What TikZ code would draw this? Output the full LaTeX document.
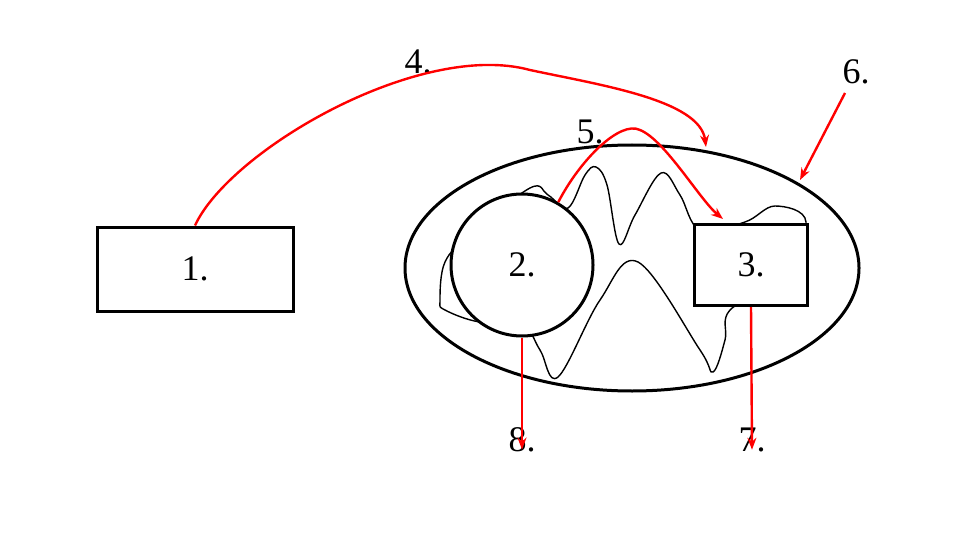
\documentclass[tikz,border=0pt]{standalone}
\usepackage{fontspec}
\setmainfont{Liberation Serif}
\usetikzlibrary{arrows.meta}
\begin{document}
\begin{tikzpicture}[x=1pt,y=-1pt,
  lbl/.style={font=\fontsize{36}{40}\selectfont, inner sep=0pt},
  thickbox/.style={draw=black, line width=3pt, fill=white},
  redarrow/.style={draw=red, line width=2.4pt, -{Stealth[length=12pt,width=9pt,inset=4pt]}}]
\useasboundingbox (0,0) rectangle (960,540);
\draw[line width=3pt] (632,268) ellipse [x radius=227, y radius=123];
\draw[line width=1.4pt] plot[smooth cycle, tension=0.6] coordinates {
 (440,300) (445,262) (470,235) (530,188) (548,195) (568,208) (585,175) (596,167)
 (607,185) (619,244) (635,215) (661,173) (680,195) (700,230) (745,222) (775,206)
 (806,222) (780,280) (730,310) (725,340) (713,372) (700,350) (638,262) (600,300)
 (558,377) (540,350) (520,320) (480,322) (445,310)};
\node[thickbox, rectangle, minimum width=196pt, minimum height=84pt, lbl] (n1) at (195,269) {1.};
\node[thickbox, circle, minimum size=142pt, lbl] (n2) at (522,265) {2.};
\node[thickbox, rectangle, minimum width=113pt, minimum height=81pt, lbl] (n3) at (751,265) {3.};
\node[lbl] (l4) at (418,62) {4.};
\node[lbl] (l5) at (590,132) {5.};
\node[lbl] (l6) at (856,72) {6.};
\node[lbl] (l7) at (752,440) {7.};
\node[lbl] (l8) at (522,440) {8.};
\coordinate (e4) at (706,147);
\coordinate (s6) at (845,93);
\coordinate (e6) at (800,180);
\coordinate (e5) at (723,219);
\draw[redarrow] (n1.north) .. controls (230,150) and (420,40) .. (530,70) .. controls (600,85) and (700,100) .. (e4);
\draw[redarrow] (n2.60) .. controls (580,160) and (620,120) .. (640,130) .. controls (665,140) and (700,200) .. (e5);
\draw[redarrow] (s6) -- (e6);
\draw[redarrow] (n2.south) -- ([yshift=-22pt]l8.north);
\draw[redarrow] (n3.south) -- ([yshift=-22pt]l7.north);
\end{tikzpicture}
\end{document}
